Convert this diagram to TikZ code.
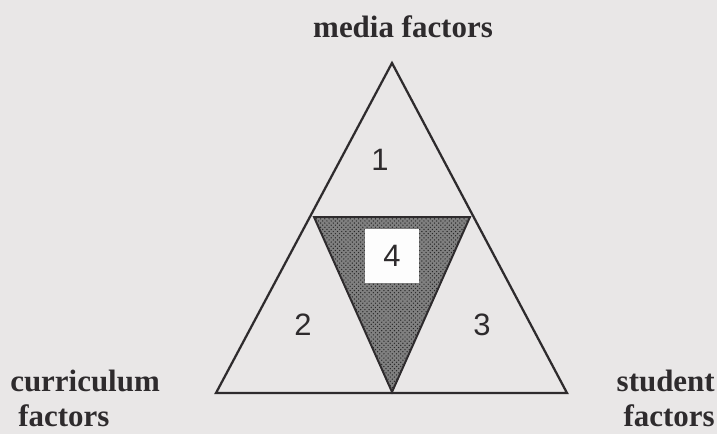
\documentclass[tikz,border=0pt]{standalone}
\usepackage{fontspec}
\setmainfont{Liberation Serif}
\newfontfamily\digitfont{Liberation Sans}
\usetikzlibrary{patterns}
\definecolor{paper}{HTML}{E9E7E7}
\definecolor{ink}{HTML}{2E2B2D}

\begin{document}
\begin{tikzpicture}[x=0.025cm,y=-0.025cm,
  factor/.style={font=\fontsize{22}{26}\selectfont\bfseries,text=ink,inner sep=0pt},
  region/.style={font=\digitfont\fontsize{22}{26}\selectfont,text=ink,inner sep=0pt}]
  %paper
  \fill[paper] (0,0) rectangle (717,434);
  \useasboundingbox (0,0) rectangle (717,434);

  %outer triangle
  \coordinate (media) at (392,63);
  \coordinate (curriculum) at (216,393);
  \coordinate (student) at (567,393);
  \draw[ink,line width=1.6pt,line join=miter] (media) -- (curriculum) -- (student) -- cycle;

  %inner triangle
  \coordinate (il) at (314,217);
  \coordinate (ir) at (470,217);
  \coordinate (ib) at (392,392);
  \fill[black!50] (il) -- (ir) -- (ib) -- cycle;
  \fill[pattern=crosshatch dots,pattern color=black!85] (il) -- (ir) -- (ib) -- cycle;
  \draw[ink,line width=1.4pt,line join=miter] (il) -- (ir) -- (ib) -- cycle;

  %regions
  \node[region] (r1) at (380,160) {1};
  \node[region] (r2) at (303,325) {2};
  \node[region] (r3) at (482,325) {3};
  \node[fill=white!92!paper,minimum size=38,inner sep=0pt] (box4) at (392,256) {};
  \node[region] (r4) at (box4) {4};

  %labels
  \node[factor] (mlabel) at (403,27) {media factors};
  \node[factor,anchor=west] (clabel) at (10,381) {curriculum};
  \node[factor,anchor=west] (clabel2) at (18,416) {factors};
  \node[factor,anchor=east] (slabel) at (715,381) {student};
  \node[factor,anchor=east] (slabel2) at (715,416) {factors};
\end{tikzpicture}
\end{document}
